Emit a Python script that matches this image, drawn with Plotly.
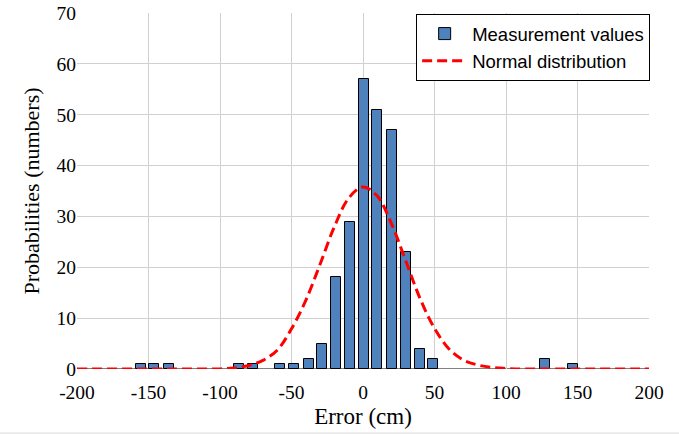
import plotly.graph_objects as go

# Histogram of measurement errors (bin centre in cm, count)
bar_x = [-155, -146, -136, -87, -77, -58, -48, -38, -29, -19, -9, 1, 10, 20, 30, 40, 49, 127, 147]
bar_y = [1, 1, 1, 1, 1, 1, 1, 2, 5, 18, 29, 57, 51, 47, 23, 4, 2, 2, 1]

# Normal distribution curve
norm_x = [-200, -190, -180, -170, -160, -150, -140, -130, -120, -110, -100, -90, -80, -70, -60, -50,
          -40, -30, -20, -10, 0, 10, 20, 30, 40, 50, 60, 70, 80, 90, 100, 110, 120, 130, 140, 150,
          160, 170, 180, 190, 200]
norm_y = [0, 0, 0, 0, 0, 0, 0, 0, 0, 0, 0.02, 0.2, 0.7, 1.7, 3.7, 7.9,
          13.5, 20.6, 28.0, 33.6, 35.8, 34.0, 28.5, 21.2, 13.8, 8.0, 4.0, 1.8, 0.8, 0.3, 0.1, 0, 0, 0, 0, 0,
          0, 0, 0, 0, 0]

x_ticks = [-200, -150, -100, -50, 0, 50, 100, 150, 200]
y_ticks = [0, 10, 20, 30, 40, 50, 60, 70]

serif = "Liberation Serif, Times New Roman, serif"
sans = "Liberation Sans, Arial, sans-serif"

fig = go.Figure()
fig.add_trace(go.Bar(
    x=bar_x, y=bar_y, width=7, name="Measurement values",
    marker=dict(color="#4F81BD", line=dict(color="#000000", width=1)),
))
fig.add_trace(go.Scatter(
    x=norm_x, y=norm_y, mode="lines", name="Normal distribution",
    line=dict(color="#FF0000", width=3, dash="10px,5px", shape="spline"),
))

fig.update_layout(
    width=679, height=434,
    margin=dict(l=77, r=30, t=13, b=65),
    paper_bgcolor="white", plot_bgcolor="white",
    showlegend=True,
    legend=dict(
        x=1.002, y=0.997, xanchor="right", yanchor="top",
        bgcolor="white", bordercolor="#000000", borderwidth=1,
        font=dict(family=sans, size=18.5, color="#000000"),
        tracegroupgap=0, itemwidth=45,
    ),
    xaxis=dict(
        range=[-200, 200], tickvals=x_ticks, ticktext=[str(v) for v in x_ticks],
        showgrid=True, gridcolor="#D0D0D0", gridwidth=1, automargin=False,
        zeroline=False, showline=False, ticks="", ticklabelstandoff=9,
        tickfont=dict(family=serif, size=19.5, color="#000000"),
        title=dict(text="Error (cm)", font=dict(family=serif, size=23, color="#000000"), standoff=6),
    ),
    yaxis=dict(
        range=[0, 70], tickvals=y_ticks, automargin=False,
        showgrid=True, gridcolor="#D0D0D0", gridwidth=1,
        zeroline=False, showline=False, ticks="", ticklen=0,
        tickfont=dict(family=serif, size=19.5, color="#000000"),
        title=dict(text="Probabilities (numbers)", font=dict(family=serif, size=22, color="#000000"), standoff=10),
    ),
    shapes=[
        dict(type="line", xref="paper", yref="y", x0=0, x1=1, y0=0, y1=0,
             line=dict(color="#808080", width=2), layer="below"),
        dict(type="line", xref="paper", yref="paper", x0=-0.135, x1=1.053, y0=-0.18, y1=-0.18,
             line=dict(color="#D9D9D9", width=1)),
    ],
    bargap=0,
)

fig.write_html("out.html", config={"displayModeBar": False},
               post_script="document.body.style.margin='0';")
